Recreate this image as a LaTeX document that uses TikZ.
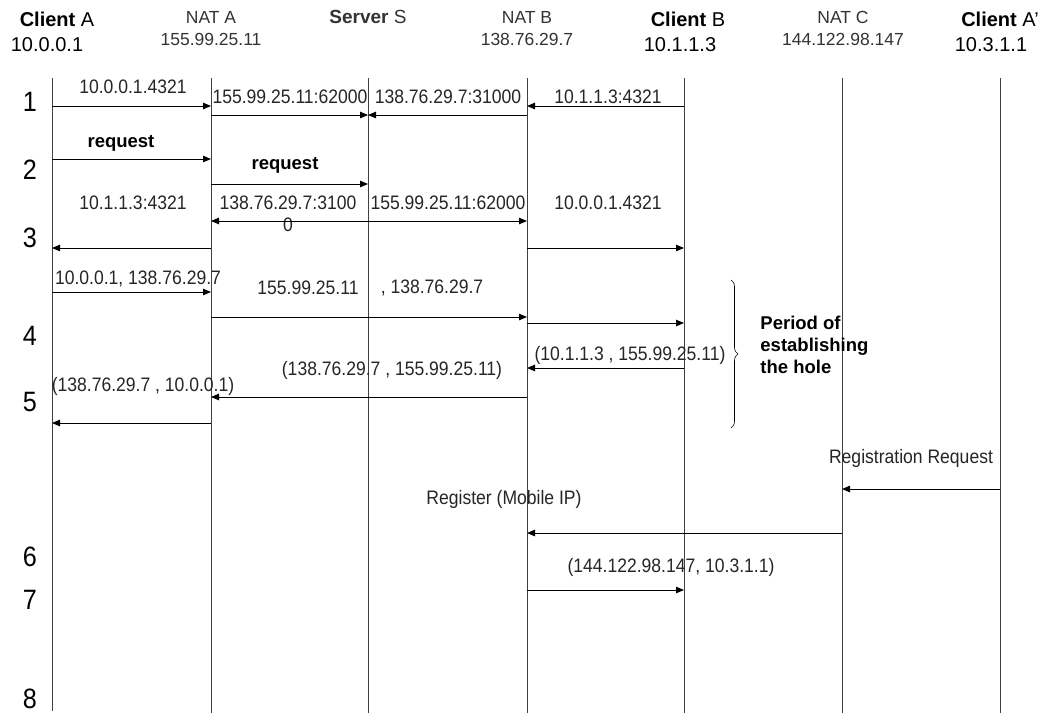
\documentclass[tikz,border=0pt]{standalone}
\usepackage{fontspec}
\setmainfont{Liberation Sans}
\newfontfamily\lblfont{Liberation Sans}[FakeStretch=0.9]
\usetikzlibrary{arrows.meta,decorations.pathreplacing}

\begin{document}
\begin{tikzpicture}[x=1pt,y=-1pt,>={Triangle[length=8pt,width=6.5pt]},line width=0.9pt,
  life/.style={draw=black!75},
  msg/.style={->,draw=black},
  lbl/.style={font=\lblfont\fontsize{19.5}{22}\selectfont,text=black!85,inner sep=0pt},
  bold/.style={font=\fontsize{18.5}{22}\selectfont\bfseries,inner sep=0pt},
  title/.style={font=\fontsize{17.5}{20}\selectfont,text=black!80,inner sep=0pt},
  addr/.style={font=\fontsize{20}{24}\selectfont,inner sep=0pt},
  num/.style={font=\lblfont\fontsize{28}{30}\selectfont,inner sep=0pt}]
\useasboundingbox[fill=white] (0,0) rectangle (1049,713);
% heads
\node[addr] (hA) at (57,19) {\textbf{Client} A};
\node[addr] (ipA) at (47,45) {10.0.0.1};
\node[title] (hNA) at (211,17) {NAT A};
\node[title] (ipNA) at (211,39) {155.99.25.11};
\node[title,font=\fontsize{19}{22}\selectfont] (hS) at (368,17) {\textbf{Server} S};
\node[title] (hNB) at (527,17) {NAT B};
\node[title] (ipNB) at (527,39) {138.76.29.7};
\node[addr] (hB) at (688,19) {\textbf{Client} B};
\node[addr] (ipB) at (680,45) {10.1.1.3};
\node[title] (hNC) at (843,17) {NAT C};
\node[title] (ipNC) at (843,39) {144.122.98.147};
\node[addr] (hAp) at (1000,19) {\textbf{Client} A'};
\node[addr] (ipAp) at (991,45) {10.3.1.1};
% lifelines
\coordinate (cA) at (52,78);
\coordinate (nA) at (211,78);
\coordinate (srv) at (368,78);
\coordinate (nB) at (527,78);
\coordinate (cB) at (684,78);
\coordinate (nC) at (842,78);
\coordinate (cAp) at (1000,78);
\draw[life] (cA) -- (cA |- 0,711);
\draw[life] (nA) -- (nA |- 0,713);
\draw[life] (srv) -- (srv |- 0,713);
\draw[life] (nB) -- (nB |- 0,713);
\draw[life] (cB) -- (cB |- 0,713);
\draw[life] (nC) -- (nC |- 0,713);
\draw[life] (cAp) -- (cAp |- 0,713);
% steps
\node[num] (s1) at (30,102) {1};
\node[num] (s2) at (30,170) {2};
\node[num] (s3) at (30,238) {3};
\node[num] (s4) at (30,336) {4};
\node[num] (s5) at (30,402) {5};
\node[num] (s6) at (30,557) {6};
\node[num] (s7) at (30,600) {7};
\node[num] (s8) at (30,699) {8};
% 1
\node[lbl] (l1a) at (133,87) {10.0.0.1.4321};
\draw[msg] (cA |- 0,106) -- (nA |- 0,106);
\node[lbl] (l1b) at (290,97) {155.99.25.11:62000};
\draw[msg] (nA |- 0,115) -- (srv |- 0,115);
\node[lbl] (l1c) at (448,97) {138.76.29.7:31000};
\draw[msg] (nB |- 0,115) -- (srv |- 0,115);
\node[lbl] (l1d) at (608,97) {10.1.1.3:4321};
\draw[msg] (cB |- 0,106) -- (nB |- 0,106);
% 2
\node[bold] (l2a) at (121,143) {request};
\draw[msg] (cA |- 0,159) -- (nA |- 0,159);
\node[bold] (l2b) at (285,165) {request};
\draw[msg] (nA |- 0,184) -- (srv |- 0,184);
% 3
\node[lbl] (l3a) at (133,203) {10.1.1.3:4321};
\node[lbl,align=center] (l3b) at (288,214) {138.76.29.7:3100\\0};
\node[lbl] (l3c) at (448,203) {155.99.25.11:62000};
\node[lbl] (l3d) at (608,203) {10.0.0.1.4321};
\draw[msg] (srv |- 0,221) -- (nA |- 0,221);
\draw[msg] (srv |- 0,221) -- (nB |- 0,221);
\draw[msg] (nA |- 0,248) -- (cA |- 0,248);
\draw[msg] (nB |- 0,248) -- (cB |- 0,248);
% 4
\node[lbl] (l4a) at (138,279) {10.0.0.1, 138.76.29.7};
\draw[msg] (cA |- 0,292) -- (nA |- 0,292);
\node[lbl] (l4b) at (308,288) {155.99.25.11};
\node[lbl] (l4c) at (432,288) {, 138.76.29.7};
\draw[msg] (nA |- 0,317) -- (nB |- 0,317);
\draw[msg] (nB |- 0,323) -- (cB |- 0,323);
\node[lbl] (l4d) at (630,355) {(10.1.1.3 , 155.99.25.11)};
\draw[msg] (cB |- 0,368) -- (nB |- 0,368);
% 5
\node[lbl] (l5a) at (392,370) {(138.76.29.7 , 155.99.25.11)};
\draw[msg] (nB |- 0,397) -- (nA |- 0,397);
\node[lbl] (l5b) at (143,386) {(138.76.29.7 , 10.0.0.1)};
\draw[msg] (nA |- 0,423) -- (cA |- 0,423);
% hole
\coordinate (brT) at (731,280);
\coordinate (brB) at (731,428);
\draw[line width=0.6pt,decorate,decoration={brace,amplitude=7pt}] (brT) -- (brB);
\node[bold,align=left,anchor=west] (hole) at (760,345) {Period of\\establishing\\the hole};
% 6
\node[lbl] (l6a) at (911,458) {Registration Request};
\draw[msg] (cAp |- 0,489) -- (nC |- 0,489);
\node[lbl] (l6b) at (504,499) {Register (Mobile IP)};
\draw[msg] (nC |- 0,533) -- (nB |- 0,533);
\node[lbl] (l6c) at (671,567) {(144.122.98.147, 10.3.1.1)};
\draw[msg] (nB |- 0,590) -- (cB |- 0,590);
\end{tikzpicture}
\end{document}
